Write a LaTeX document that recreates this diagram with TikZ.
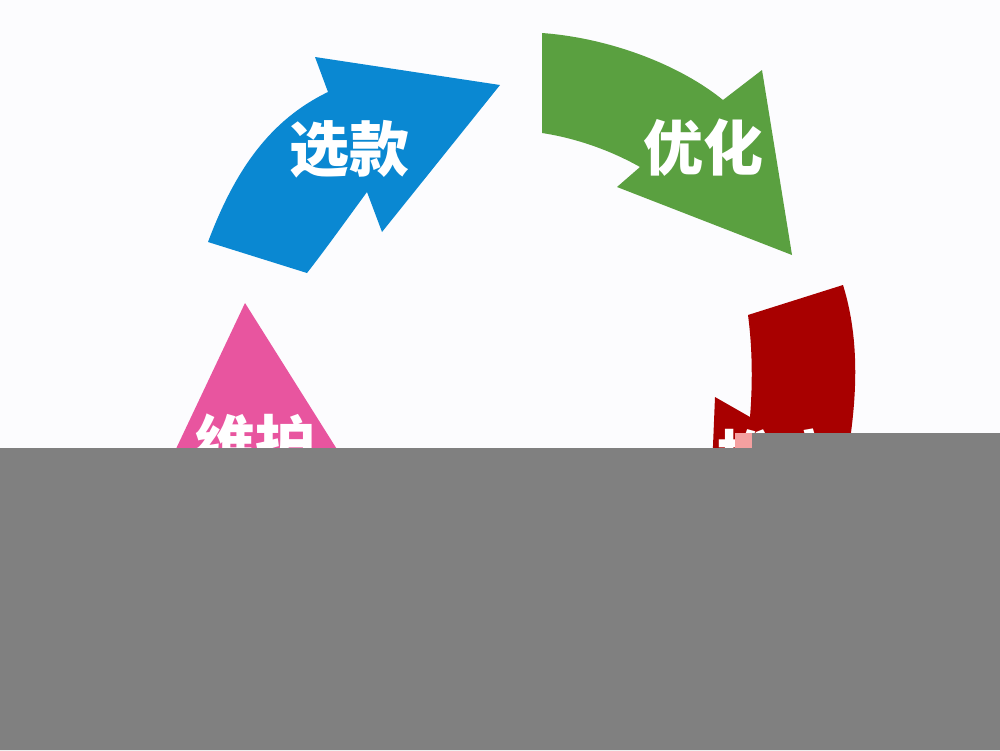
\documentclass[tikz,border=0pt]{standalone}
\usepackage{fontspec}
\newfontfamily\cjk{Noto Sans CJK SC}
\definecolor{bgc}{HTML}{FCFCFE}
\definecolor{bluec}{HTML}{0A88D2}
\definecolor{greenc}{HTML}{5AA040}
\definecolor{redc}{HTML}{A80000}
\definecolor{pinkc}{HTML}{E8559F}
\definecolor{grayc}{HTML}{808080}
\definecolor{lpink}{HTML}{F4A0A0}
\tikzset{
  lbl/.style={text=white, font=\cjk\bfseries\fontsize{60}{60}\selectfont, anchor=base, inner sep=0pt},
}
\begin{document}
\begin{tikzpicture}[x=1pt,y=-1pt]
\useasboundingbox (0,0) rectangle (1000,750);
\fill[bgc] (0,0) rectangle (1000,750);
% blue arrow
\fill[bluec] (208,242) .. controls (235,170) and (270,120) .. (328,92)
  -- (315,57) -- (500,85) -- (382,232) -- (367,192)
  .. controls (345,222) and (325,250) .. (307,273) -- cycle;
\node[lbl] (xk) at (349,171) {选款};
% green arrow
\fill[greenc] (542,33) .. controls (610,38) and (680,65) .. (723,100)
  -- (762,70) -- (792,255) -- (617,187) -- (640,167)
  .. controls (610,150) and (575,138) .. (542,133) -- cycle;
\node[lbl] (yh) at (703,170) {优化};
% red arrow
\fill[redc] (748,315) -- (843,285) .. controls (860,340) and (858,400) .. (845,470)
  -- (712,470) -- (715,397) -- (750,417) .. controls (753,380) and (752,345) .. cycle;
\node[lbl] (tg) at (777,480) {推广};
% pink arrow
\fill[pinkc] (245,303) -- (350,470) -- (166,470) -- cycle;
\node[lbl] (wh) at (255,465) {维护};
% gray cover
\fill[grayc] (0,448) -- (752,448) -- (752,433) -- (1000,433) -- (1000,750) -- (0,750) -- cycle;
\fill[lpink] (735,433) rectangle (752,448);
\end{tikzpicture}
\end{document}
